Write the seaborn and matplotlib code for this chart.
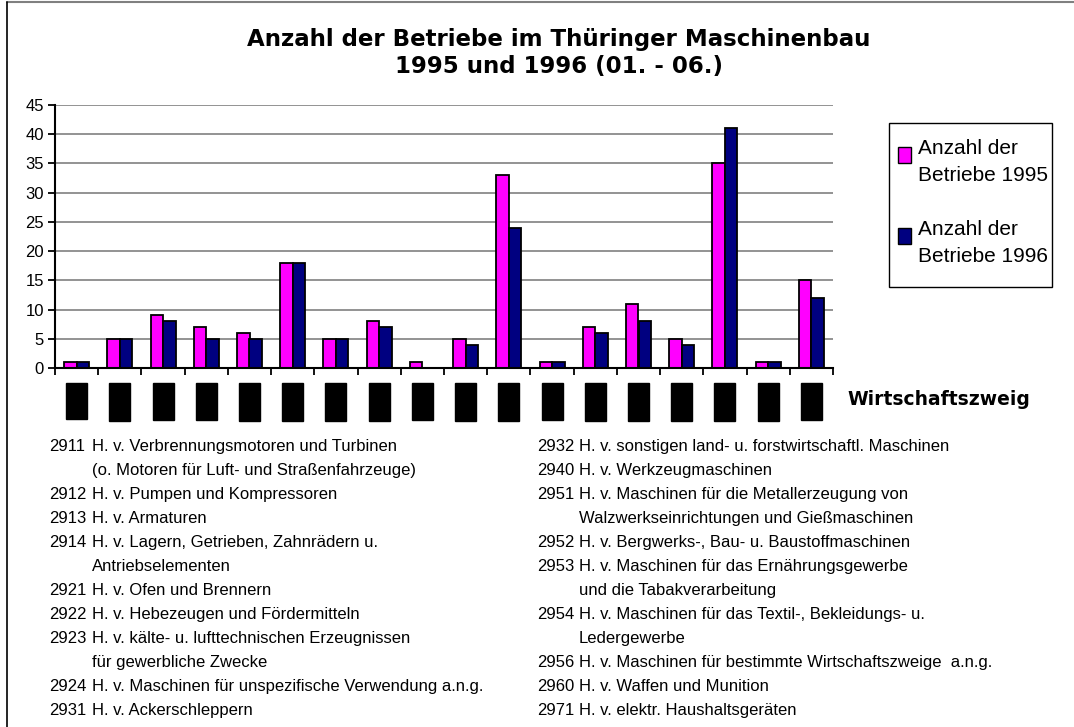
import matplotlib
matplotlib.use("Agg")
import matplotlib.pyplot as plt
import seaborn as sns
import pandas as pd
import numpy as np
from matplotlib.lines import Line2D
from matplotlib.patches import Rectangle
from matplotlib.legend_handler import HandlerPatch

codes = ["2911", "2912", "2913", "2914", "2921", "2922", "2923", "2924", "2931",
         "2932", "2940", "2951", "2952", "2953", "2954", "2956", "2960", "2971"]
betriebe_1995 = [1, 5, 9, 7, 6, 18, 5, 8, 1, 5, 33, 1, 7, 11, 5, 35, 1, 15]
betriebe_1996 = [1, 5, 8, 5, 5, 18, 5, 7, 0, 4, 24, 1, 6, 8, 4, 41, 1, 12]
series_names = ["Anzahl der\nBetriebe 1995", "Anzahl der\nBetriebe 1996"]
y_ticks = [0, 5, 10, 15, 20, 25, 30, 35, 40, 45]

left_codes = ["2911", "", "2912", "2913", "2914", "", "2921", "2922", "2923", "", "2924", "2931"]
left_desc = ["H. v. Verbrennungsmotoren und Turbinen",
             "(o. Motoren für Luft- und Straßenfahrzeuge)",
             "H. v. Pumpen und Kompressoren",
             "H. v. Armaturen",
             "H. v. Lagern, Getrieben, Zahnrädern u.",
             "Antriebselementen",
             "H. v. Ofen und Brennern",
             "H. v. Hebezeugen und Fördermitteln",
             "H. v. kälte- u. lufttechnischen Erzeugnissen",
             "für gewerbliche Zwecke",
             "H. v. Maschinen für unspezifische Verwendung a.n.g.",
             "H. v. Ackerschleppern"]
right_codes = ["2932", "2940", "2951", "", "2952", "2953", "", "2954", "", "2956", "2960", "2971"]
right_desc = ["H. v. sonstigen land- u. forstwirtschaftl. Maschinen",
              "H. v. Werkzeugmaschinen",
              "H. v. Maschinen für die Metallerzeugung von",
              "Walzwerkseinrichtungen und Gießmaschinen",
              "H. v. Bergwerks-, Bau- u. Baustoffmaschinen",
              "H. v. Maschinen für das Ernährungsgewerbe",
              "und die Tabakverarbeitung",
              "H. v. Maschinen für das Textil-, Bekleidungs- u.",
              "Ledergewerbe",
              "H. v. Maschinen für bestimmte Wirtschaftszweige  a.n.g.",
              "H. v. Waffen und Munition",
              "H. v. elektr. Haushaltsgeräten"]

sns.set_style("white")
plt.rcParams['font.family'] = ['Liberation Sans', 'DejaVu Sans']
plt.rcParams['text.color'] = 'black'
plt.rcParams['xtick.labelcolor'] = 'black'
plt.rcParams['ytick.labelcolor'] = 'black'
plt.rcParams['axes.labelcolor'] = 'black'

W, H = 1074, 727
fig = plt.figure(figsize=(W / 100, H / 100), dpi=100)

def fx(px):
    return px / W

def fy(py):
    return 1 - py / H

ax = fig.add_axes([fx(55), fy(368), fx(833) - fx(55), fy(105) - fy(368)])

df = pd.DataFrame({
    "Wirtschaftszweig": codes * 2,
    "Anzahl": betriebe_1995 + betriebe_1996,
    "Serie": [series_names[0]] * len(codes) + [series_names[1]] * len(codes),
})

colors = ["#FF00FF", "#000080"]
sns.barplot(data=df, x="Wirtschaftszweig", y="Anzahl", hue="Serie",
            palette=colors, width=0.58, ax=ax,
            edgecolor="black", linewidth=1.3, saturation=1, legend=False)

ax.set_xlim(-0.5, len(codes) - 0.5)
ax.set_ylim(0, 45)
ax.set_yticks(y_ticks)
ax.set_yticklabels([str(v) for v in y_ticks], fontsize=12, color="black")
ax.yaxis.grid(True, color="#808080", linewidth=1.2)
ax.set_axisbelow(True)
ax.set_xlabel("")
ax.set_ylabel("")
for s in ["top", "right"]:
    ax.spines[s].set_visible(False)
ax.spines["left"].set_color("black")
ax.spines["left"].set_linewidth(1.5)
ax.spines["bottom"].set_color("black")
ax.spines["bottom"].set_linewidth(1.5)
ax.tick_params(axis="y", direction="out", length=5, width=1.3, color="black", pad=3, left=True)

ax.set_xticks(np.arange(-0.5, len(codes), 1.0), minor=True)
ax.tick_params(axis="x", which="minor", direction="out", length=5, width=1.3, color="black", bottom=True)
ax.set_xticks(range(len(codes)))
ax.set_xticklabels(codes, rotation=90, fontsize=10, color="black", va="top",
                   bbox=dict(boxstyle="square,pad=0.25", facecolor="black", edgecolor="black"))
ax.tick_params(axis="x", which="major", length=0, pad=13)

# Legend with the colour box aligned to the first text line
def top_square(legend, orig_handle, xdescent, ydescent, width, height, fontsize):
    h = 0.75 * fontsize
    return Rectangle((-xdescent, -ydescent + height - h - 0.05 * fontsize), width, h)

handles = [Rectangle((0, 0), 1, 1, facecolor=c, edgecolor="black", linewidth=1)
           for c in colors]
leg = fig.legend(handles, series_names, loc="upper left",
                 bbox_to_anchor=(fx(898), fy(139)),
                 fontsize=15, frameon=False,
                 handlelength=0.62, handleheight=2.1, handletextpad=0.34,
                 labelspacing=1.68, borderpad=0, borderaxespad=0,
                 handler_map={Rectangle: HandlerPatch(patch_func=top_square)})
for t in leg.get_texts():
    t.set_linespacing(1.52)
fig.add_artist(Rectangle((fx(889), fy(287)), fx(1052) - fx(889), fy(123) - fy(287),
                         transform=fig.transFigure, facecolor="none",
                         edgecolor="black", linewidth=1))

# Title
fig.text(fx(559), fy(46), "Anzahl der Betriebe im Thüringer Maschinenbau",
         ha="center", va="baseline", fontsize=16.5, fontweight="bold", family="DejaVu Sans")
fig.text(fx(559), fy(72.5), "1995 und 1996 (01. - 06.)",
         ha="center", va="baseline", fontsize=16.5, fontweight="bold", family="DejaVu Sans")

fig.text(fx(847), fy(405), "Wirtschaftszweig", ha="left", va="baseline",
         fontsize=13.5, fontweight="bold", family="DejaVu Sans")

# Explanations
for i, (c, d) in enumerate(zip(left_codes, left_desc)):
    y = fy(451 + 24 * i)
    if c:
        fig.text(fx(49), y, c, ha="left", va="baseline", fontsize=12)
    fig.text(fx(92), y, d, ha="left", va="baseline", fontsize=12)
for i, (c, d) in enumerate(zip(right_codes, right_desc)):
    y = fy(451 + 24 * i)
    if c:
        fig.text(fx(537), y, c, ha="left", va="baseline", fontsize=12)
    fig.text(fx(579), y, d, ha="left", va="baseline", fontsize=12)

# Outer frame lines
fig.add_artist(Line2D([fx(7), 1], [fy(2), fy(2)], color="#808080", linewidth=1.5,
                      transform=fig.transFigure))
fig.add_artist(Line2D([fx(7), fx(7)], [fy(2), 0], color="black", linewidth=1.2,
                      transform=fig.transFigure))

fig.savefig("out.png", dpi=100)
